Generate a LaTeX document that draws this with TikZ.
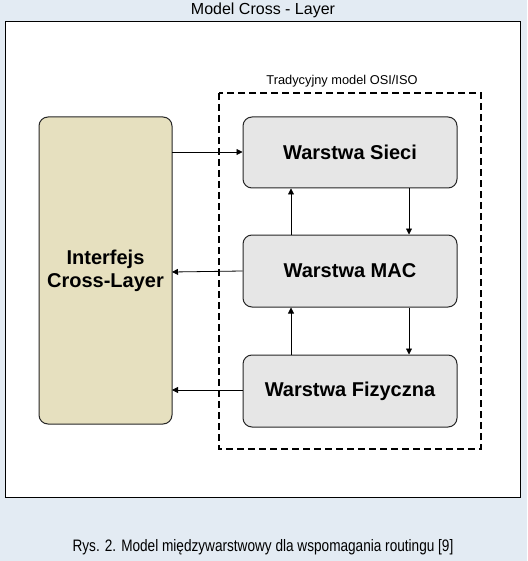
\documentclass[tikz,border=0pt]{standalone}
\usepackage{fontspec}
\setmainfont{Liberation Sans}
\newfontfamily\narrowfont[FakeStretch=0.82]{Liberation Sans}
\usetikzlibrary{arrows.meta}
\definecolor{bgc}{HTML}{E3EBF3}
\definecolor{tanc}{HTML}{E6E0BF}
\definecolor{grayc}{HTML}{E6E6E6}
\tikzset{
  layerbox/.style={draw=black!85, line width=1pt, fill=grayc, rounded corners=9pt, font=\fontsize{20}{22}\selectfont\bfseries},
  ifbox/.style={draw=black!85, line width=1pt, fill=tanc, rounded corners=9pt},
  conn/.style={-{Triangle[length=6pt,width=6pt]}, line width=0.8pt},
}
\begin{document}
\begin{tikzpicture}[x=1pt,y=-1pt]
\useasboundingbox (0,0) rectangle (527,561);
\fill[bgc] (0,0) rectangle (527,561);
\draw[fill=white, line width=1pt] (5,22) rectangle (520,497);
\node (title) at (263,10.5) {\fontsize{16}{18}\selectfont Model Cross - Layer};
\node (caption) at (263,547) {\narrowfont\fontsize{16.6}{18}\selectfont Rys. 2. Model międzywarstwowy dla wspomagania routingu [9]};
\draw[dashed, dash pattern=on 7pt off 4pt, line width=1.5pt] (219,93) rectangle (481,449);
\node (osi) at (342,81) {\fontsize{12.8}{14}\selectfont Tradycyjny model OSI/ISO};
\path[ifbox] (39,117) rectangle (172,424);
\node[font=\fontsize{20}{23}\selectfont\bfseries, align=center] (iface) at (105.5,270.5) {Interfejs\\Cross-Layer};
\coordinate (ifR1) at (172,152);
\coordinate (ifR2) at (172,272);
\coordinate (ifR3) at (172,390);
\node[layerbox, minimum width=214pt, minimum height=71pt] (sieci) at (350,152.5) {Warstwa Sieci};
\node[layerbox, minimum width=214pt, minimum height=72pt] (mac) at (350,271) {Warstwa MAC};
\node[layerbox, minimum width=214pt, minimum height=72pt] (fiz) at (350,391) {Warstwa Fizyczna};
\draw[conn] (ifR1) -- (sieci.west |- ifR1);
\draw[conn] (mac.west) -- (ifR2);
\draw[conn] (fiz.west |- ifR3) -- (ifR3);
\draw[conn] (mac.north -| 291,0) -- (sieci.south -| 291,0);
\draw[conn] (fiz.north -| 291,0) -- (mac.south -| 291,0);
\draw[conn] (sieci.south -| 409,0) -- (mac.north -| 409,0);
\draw[conn] (mac.south -| 409,0) -- (fiz.north -| 409,0);
\end{tikzpicture}
\end{document}
